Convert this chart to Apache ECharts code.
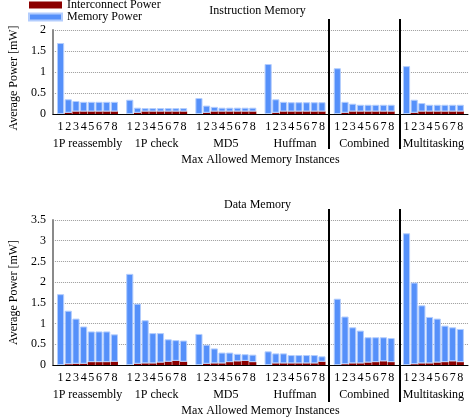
<!DOCTYPE html>
<html><head><meta charset="utf-8">
<script src="https://cdn.jsdelivr.net/npm/echarts@6/dist/echarts.min.js"></script>
<style>html,body{margin:0;padding:0;background:#fff}#c{width:471px;height:418px}</style>
</head><body><div id="c"></div>
<script>
const benchmarks = ['1P reassembly', '1P check', 'MD5', 'Huffman', 'Combined', 'Multitasking'];
const instances = ['1', '2', '3', '4', '5', '6', '7', '8'];
const separatedGroups = ['Combined', 'Multitasking'];
const seriesNames = ['Interconnect Power', 'Memory Power'];
const titles = ['Instruction Memory', 'Data Memory'];
const yName = 'Average Power [mW]';
const xName = 'Max Allowed Memory Instances';
const instrYTicks = [0, 0.5, 1, 1.5, 2];
const dataYTicks = [0, 0.5, 1, 1.5, 2, 2.5, 3, 3.5];

// Instruction memory (per benchmark, 1..8 instances)
const instrInterconnect = [
  [0, 0.03, 0.06, 0.06, 0.06, 0.06, 0.06, 0.06],
  [0, 0.03, 0.06, 0.06, 0.06, 0.06, 0.06, 0.06],
  [0, 0.03, 0.06, 0.06, 0.06, 0.06, 0.06, 0.06],
  [0, 0.03, 0.06, 0.06, 0.06, 0.06, 0.06, 0.06],
  [0, 0.03, 0.06, 0.06, 0.06, 0.06, 0.06, 0.06],
  [0, 0.03, 0.06, 0.06, 0.06, 0.06, 0.06, 0.06]
];
const instrMemory = [
  [1.69, 0.32, 0.25, 0.23, 0.23, 0.23, 0.23, 0.23],
  [0.34, 0.12, 0.08, 0.08, 0.08, 0.08, 0.08, 0.08],
  [0.38, 0.17, 0.11, 0.09, 0.09, 0.09, 0.09, 0.09],
  [1.19, 0.32, 0.23, 0.22, 0.22, 0.22, 0.22, 0.22],
  [1.09, 0.26, 0.185, 0.16, 0.16, 0.16, 0.16, 0.16],
  [1.14, 0.31, 0.20, 0.16, 0.16, 0.16, 0.16, 0.16]
];
// Data memory
const dataInterconnect = [
  [0, 0.02, 0.03, 0.03, 0.07, 0.07, 0.07, 0.08],
  [0, 0.03, 0.04, 0.04, 0.06, 0.08, 0.10, 0.08],
  [0, 0.03, 0.04, 0.04, 0.07, 0.09, 0.10, 0.07],
  [0, 0.04, 0.04, 0.04, 0.04, 0.04, 0.04, 0.08],
  [0, 0.02, 0.04, 0.04, 0.06, 0.07, 0.09, 0.07],
  [0, 0.02, 0.04, 0.04, 0.06, 0.07, 0.09, 0.07]
];
const dataMemory = [
  [1.71, 1.29, 1.09, 0.90, 0.74, 0.74, 0.74, 0.66],
  [2.20, 1.45, 1.04, 0.73, 0.71, 0.54, 0.50, 0.51],
  [0.75, 0.46, 0.36, 0.26, 0.23, 0.18, 0.16, 0.18],
  [0.33, 0.24, 0.24, 0.20, 0.20, 0.20, 0.20, 0.13],
  [1.60, 1.15, 0.87, 0.79, 0.61, 0.60, 0.58, 0.58],
  [3.18, 1.97, 1.40, 1.12, 1.06, 0.88, 0.82, 0.80]
];

const FONT = 'Liberation Serif';
const SLOTS = instances.length + 1;          // bars + gap per group
const XMAX = benchmarks.length * SLOTS;
const RED = '#8b0000', BLUE = '#5590fa';

// items are [value, position] so that the value column is the stacked one
function toPoints(groups) {
  const out = [];
  groups.forEach((vals, g) => vals.forEach((v, i) => out.push([v, g * SLOTS + i + 1])));
  return out;
}

const chart = echarts.init(document.getElementById('c'), null, {renderer: 'canvas'});

const gridsMain = [
  {left: 44, right: 0, top: 30, height: 84},
  {left: 44, right: 0, top: 220, height: 147}
];
const gridsOverlay = [
  {left: 44, right: 0, top: 19, height: 130},
  {left: 44, right: 0, top: 209, height: 193}
];
const yTicksList = [instrYTicks, dataYTicks];

const xAxes = [], yAxes = [], series = [];
[0, 1].forEach(k => {
  xAxes.push({
    type: 'value', gridIndex: k, min: 0, max: XMAX, interval: 1,
    axisLine: {show: true, onZero: false, lineStyle: {color: '#000', width: 1}},
    axisTick: {show: false}, splitLine: {show: false},
    axisLabel: {
      margin: 7, color: '#000', fontFamily: FONT, fontSize: 12,
      showMinLabel: true, showMaxLabel: true,
      formatter: v => { const r = Math.round(v) % SLOTS; return (r >= 1 && r <= instances.length) ? instances[r - 1] : ''; }
    }
  });
  yAxes.push({
    type: 'value', gridIndex: k, min: yTicksList[k][0], max: yTicksList[k][yTicksList[k].length - 1],
    interval: yTicksList[k][1] - yTicksList[k][0],
    name: yName, nameLocation: 'middle', nameGap: 31,
    nameTextStyle: {color: '#000', fontFamily: FONT, fontSize: 12, padding: k === 0 ? [0, 12, 0, 0] : 0},
    axisLine: {show: true, lineStyle: {color: '#8a8a8a', width: 2}},
    axisTick: {show: false},
    axisLabel: {margin: 7, color: '#000', fontFamily: FONT, fontSize: 12},
    splitLine: {show: true, lineStyle: {color: '#9a9a9a', type: 'dotted', width: 1}}
  });
});
[0, 1].forEach(k => {
  xAxes.push({
    type: 'category', gridIndex: k, data: benchmarks, position: 'bottom',
    name: xName, nameLocation: 'middle', nameGap: 40,
    nameTextStyle: {color: '#000', fontFamily: FONT, fontSize: 12},
    axisLine: {show: false}, axisTick: {show: false}, splitLine: {show: false},
    axisLabel: {margin: 24, color: '#000', fontFamily: FONT, fontSize: 12, interval: 0}
  });
});
[0, 1].forEach(k => {
  xAxes.push({type: 'value', gridIndex: k + 2, min: 0, max: XMAX, show: false});
  yAxes.push({type: 'value', gridIndex: k + 2, min: 0, max: 1, show: false});
});

const interSets = [instrInterconnect, dataInterconnect];
const memSets = [instrMemory, dataMemory];
[0, 1].forEach(k => {
  series.push({
    name: seriesNames[0], type: 'bar', xAxisIndex: k, yAxisIndex: k, stack: 's' + k,
    encode: {x: 1, y: 0}, barWidth: '93%', data: toPoints(interSets[k]),
    itemStyle: {color: RED}, silent: true
  });
  series.push({
    name: seriesNames[1], type: 'bar', xAxisIndex: k, yAxisIndex: k, stack: 's' + k,
    encode: {x: 1, y: 0}, barWidth: '93%', data: toPoints(memSets[k]),
    itemStyle: {color: BLUE, borderColor: '#b3cdfd', borderWidth: 1}, silent: true
  });
  series.push({
    type: 'line', xAxisIndex: k + 4, yAxisIndex: k + 2, data: [[0, 0]], showSymbol: false,
    lineStyle: {opacity: 0}, silent: true,
    markLine: {
      symbol: 'none', silent: true, label: {show: false}, animation: false,
      lineStyle: {color: '#000', width: 2, type: 'solid'},
      data: separatedGroups.map(name => ({xAxis: benchmarks.indexOf(name) * SLOTS}))
    }
  });
});

chart.setOption({
  animation: false,
  backgroundColor: '#fff',
  title: [
    {text: titles[0], left: 257.5, top: 11, textAlign: 'center', textVerticalAlign: 'middle', padding: 0,
     textStyle: {fontFamily: FONT, fontSize: 12, fontWeight: 'normal', color: '#000'}},
    {text: titles[1], left: 257.5, top: 205, textAlign: 'center', textVerticalAlign: 'middle', padding: 0,
     textStyle: {fontFamily: FONT, fontSize: 12, fontWeight: 'normal', color: '#000'}}
  ],
  legend: {
    data: seriesNames, orient: 'vertical', left: 28, top: -1, padding: 0, itemGap: 0,
    icon: 'rect', itemWidth: 33, itemHeight: 7, selectedMode: false,
    textStyle: {fontFamily: FONT, fontSize: 12, color: '#000', lineHeight: 12}
  },
  grid: gridsMain.concat(gridsOverlay),
  xAxis: xAxes,
  yAxis: yAxes,
  series: series
});
</script>
</body></html>
